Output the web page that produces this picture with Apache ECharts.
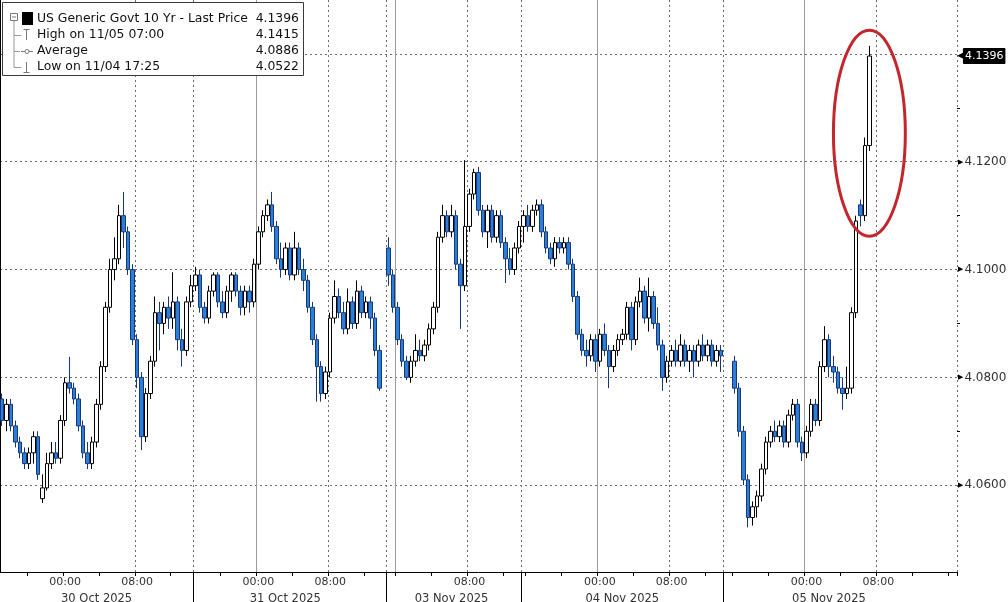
<!DOCTYPE html>
<html><head><meta charset="utf-8">
<script src="https://cdn.jsdelivr.net/npm/echarts@6/dist/echarts.min.js"></script>
<style>html,body{margin:0;padding:0;background:#fff}#c{width:1008px;height:602px}</style>
</head><body><div id="c"></div>
<script>
// ---- time layout: trading sessions of 30-minute bars ----
const sessions = [
  { start: '2025-10-29 17:00', slots: 43 },
  { start: '2025-10-30 17:00', slots: 43 },
  { start: '2025-11-02 23:00', slots: 30 },
  { start: '2025-11-03 15:30', slots: 45 },
  { start: '2025-11-04 15:00', slots: 52 }
];
const timeTickLabels = ['00:00', '08:00'];
const dayLabels = ['30 Oct 2025', '31 Oct 2025', '03 Nov 2025', '04 Nov 2025', '05 Nov 2025'];
const dayLabelSlots = ['10/30 03:30', '10/31 03:00', '11/03 06:00', '11/04 02:30', '11/05 02:30'];
const yLabelValues = [4.06, 4.08, 4.10, 4.12];
const yMinorTicks = [4.07, 4.09, 4.11, 4.13];

// ---- OHLC bars: [open, close, low, high] ----
const oct30 = [
[4.076,4.072,4.071,4.077],[4.072,4.075,4.070,4.076],[4.075,4.071,4.070,4.076],[4.071,4.068,4.067,4.072],
[4.068,4.066,4.065,4.069],[4.066,4.064,4.063,4.067],[4.064,4.066,4.063,4.067],[4.066,4.069,4.064,4.070],
[4.069,4.062,4.061,4.070],[4.0575,4.0595,4.0567,4.062],[4.0595,4.064,4.059,4.066],[4.064,4.066,4.063,4.068],
[4.066,4.065,4.064,4.068],[4.065,4.072,4.064,4.073],[4.072,4.079,4.071,4.080],[4.079,4.078,4.077,4.0838],
[4.078,4.076,4.075,4.079],[4.076,4.071,4.070,4.077],[4.071,4.066,4.065,4.072],[4.066,4.064,4.063,4.068],
[4.064,4.068,4.063,4.069],[4.068,4.075,4.067,4.076],[4.075,4.082,4.074,4.083],[4.082,4.093,4.081,4.094],
[4.093,4.100,4.092,4.102],[4.100,4.102,4.098,4.106],[4.102,4.110,4.101,4.112],[4.110,4.107,4.104,4.1144],
[4.107,4.100,4.099,4.108],[4.100,4.087,4.086,4.101],[4.087,4.080,4.078,4.088],[4.080,4.069,4.0665,4.081],
[4.069,4.077,4.068,4.078],[4.077,4.083,4.076,4.084],[4.083,4.092,4.082,4.095],[4.092,4.090,4.085,4.094],
[4.090,4.093,4.088,4.094],[4.093,4.091,4.089,4.095],[4.091,4.094,4.089,4.0995],[4.094,4.087,4.085,4.095],
[4.087,4.085,4.082,4.089],[4.085,4.094,4.084,4.095],[4.094,4.097,4.093,4.099]
];
const oct31 = [
[4.097,4.099,4.096,4.1005],[4.099,4.093,4.092,4.100],[4.093,4.091,4.090,4.094],[4.091,4.096,4.090,4.097],
[4.096,4.099,4.095,4.0995],[4.099,4.094,4.093,4.0995],[4.094,4.092,4.091,4.096],[4.092,4.096,4.091,4.097],
[4.096,4.099,4.094,4.0995],[4.099,4.096,4.095,4.0995],[4.096,4.093,4.0915,4.097],[4.093,4.096,4.0915,4.097],
[4.096,4.094,4.092,4.097],[4.094,4.101,4.093,4.102],[4.101,4.107,4.100,4.108],[4.107,4.110,4.106,4.111],
[4.110,4.112,4.109,4.113],[4.112,4.108,4.107,4.1144],[4.108,4.102,4.101,4.109],[4.102,4.100,4.0985,4.105],
[4.100,4.104,4.099,4.105],[4.104,4.099,4.098,4.105],[4.099,4.104,4.098,4.107],[4.104,4.100,4.099,4.105],
[4.100,4.098,4.096,4.102],[4.098,4.093,4.092,4.099],[4.093,4.087,4.086,4.094],[4.087,4.082,4.0755,4.088],
[4.082,4.077,4.0755,4.083],[4.077,4.081,4.076,4.082],[4.081,4.091,4.080,4.092],[4.091,4.095,4.090,4.098],
[4.095,4.092,4.091,4.0965],[4.092,4.089,4.088,4.094],[4.089,4.094,4.088,4.0965],[4.094,4.090,4.089,4.095],
[4.090,4.096,4.089,4.098],[4.096,4.092,4.091,4.097],[4.092,4.094,4.091,4.095],[4.094,4.091,4.089,4.095],
[4.091,4.085,4.084,4.092],[4.085,4.078,4.0775,4.086]
];
const nov03 = [
[4.104,4.099,4.097,4.106],[4.099,4.093,4.092,4.100],[4.093,4.087,4.086,4.094],[4.087,4.083,4.082,4.088],
[4.083,4.080,4.0795,4.084],[4.080,4.083,4.079,4.084],[4.083,4.085,4.082,4.088],[4.085,4.084,4.083,4.087],
[4.084,4.086,4.083,4.087],[4.086,4.089,4.085,4.090],[4.089,4.093,4.088,4.094],[4.093,4.106,4.092,4.107],
[4.106,4.110,4.105,4.112],[4.110,4.107,4.106,4.111],[4.107,4.110,4.106,4.112],[4.110,4.101,4.100,4.111],
[4.101,4.097,4.089,4.102],[4.097,4.108,4.096,4.1203],[4.108,4.114,4.107,4.115],[4.114,4.118,4.113,4.1187],
[4.118,4.111,4.110,4.119],[4.111,4.107,4.106,4.112],[4.107,4.111,4.104,4.112],[4.111,4.106,4.105,4.112],
[4.106,4.110,4.105,4.111],[4.110,4.105,4.104,4.111],[4.105,4.102,4.0975,4.106],[4.102,4.100,4.099,4.104],
[4.100,4.104,4.099,4.105],[4.104,4.108,4.103,4.109]
];
const nov04 = [
[4.108,4.110,4.105,4.111],[4.110,4.108,4.107,4.112],[4.108,4.111,4.107,4.112],[4.111,4.112,4.110,4.113],
[4.112,4.107,4.106,4.113],[4.107,4.104,4.103,4.108],[4.104,4.102,4.101,4.105],[4.102,4.105,4.1005,4.106],
[4.105,4.104,4.103,4.106],[4.104,4.105,4.103,4.106],[4.105,4.101,4.100,4.106],[4.101,4.095,4.094,4.102],
[4.095,4.088,4.087,4.096],[4.088,4.085,4.084,4.089],[4.085,4.084,4.082,4.087],[4.084,4.087,4.083,4.088],
[4.087,4.083,4.081,4.088],[4.083,4.088,4.082,4.089],[4.088,4.085,4.084,4.090],[4.085,4.082,4.078,4.086],
[4.082,4.085,4.081,4.086],[4.085,4.087,4.084,4.088],[4.087,4.088,4.086,4.089],[4.088,4.093,4.087,4.094],
[4.093,4.087,4.085,4.094],[4.087,4.094,4.086,4.095],[4.094,4.096,4.093,4.0985],[4.096,4.091,4.090,4.097],
[4.091,4.095,4.0885,4.0985],[4.095,4.090,4.089,4.096],[4.090,4.086,4.085,4.093],[4.086,4.080,4.0775,4.087],
[4.080,4.083,4.079,4.084],[4.083,4.085,4.082,4.086],[4.085,4.083,4.082,4.087],[4.083,4.086,4.082,4.088],
[4.086,4.083,4.082,4.087],[4.083,4.085,4.081,4.086],[4.085,4.083,4.080,4.086],[4.083,4.086,4.082,4.087],
[4.086,4.084,4.083,4.088],[4.084,4.086,4.083,4.087],[4.086,4.083,4.082,4.087],[4.083,4.085,4.082,4.086],
[4.085,4.084,4.081,4.086]
];
const nov05 = [
null, null,
[4.083,4.078,4.077,4.084],[4.078,4.070,4.069,4.079],[4.070,4.061,4.060,4.071],[4.061,4.054,4.0522,4.062],
[4.054,4.056,4.0525,4.057],[4.056,4.058,4.054,4.059],[4.058,4.063,4.057,4.064],[4.063,4.068,4.062,4.069],
[4.068,4.070,4.067,4.071],[4.070,4.069,4.068,4.072],[4.069,4.071,4.068,4.072],[4.071,4.068,4.067,4.072],
[4.068,4.073,4.067,4.074],[4.073,4.075,4.072,4.076],[4.075,4.068,4.067,4.076],[4.068,4.066,4.0645,4.069],
[4.066,4.070,4.065,4.071],[4.070,4.075,4.069,4.076],[4.075,4.072,4.071,4.076],[4.072,4.082,4.071,4.083],
[4.082,4.087,4.081,4.0895],[4.087,4.082,4.080,4.088],[4.082,4.081,4.079,4.084],[4.081,4.078,4.077,4.082],
[4.078,4.077,4.074,4.080],[4.077,4.078,4.076,4.082],[4.078,4.092,4.077,4.093],[4.092,4.109,4.091,4.110],
[4.112,4.110,4.108,4.113],[4.110,4.123,4.109,4.1245],[4.123,4.1396,4.122,4.1415]
];
const sessionBars = [oct30, oct31, nov03, nov04, nov05];

// legend texts and values
const legendRows = [
  ['US Generic Govt 10 Yr - Last Price', '4.1396'],
  ['High on 11/05 07:00', '4.1415'],
  ['Average', '4.0886'],
  ['Low on 11/04 17:25', '4.0522']
];
const lastPrice = 4.1396;
const yMin = 4.0439, yMax = 4.15;
const ellipseTop = 4.1444, ellipseBottom = 4.1062;

// ---- build categories / data ----
function pad(n){ return (n < 10 ? '0' : '') + n; }
const cats = [], bars = [], sessionStarts = [];
sessions.forEach((s, si) => {
  sessionStarts.push(cats.length);
  const [d, t] = s.start.split(' ');
  const [Y, M, D] = d.split('-').map(Number);
  const [h, m] = t.split(':').map(Number);
  const base = Date.UTC(Y, M - 1, D, h, m);
  for (let k = 0; k < s.slots; k++) {
    const dt = new Date(base + k * 1800000);
    cats.push(pad(dt.getUTCMonth() + 1) + '/' + pad(dt.getUTCDate()) + ' ' + pad(dt.getUTCHours()) + ':' + pad(dt.getUTCMinutes()));
    const b = sessionBars[si][k];
    bars.push(b ? b : ['-', '-', '-', '-']);
  }
});
const N = cats.length;
const tOf = v => v.slice(6);
const nearSessionStart = i => sessionStarts.some(s => i >= s && i - s < 4);
const FONT = 'DejaVu Sans';

const chart = echarts.init(document.getElementById('c'), null, { renderer: 'canvas' });
chart.setOption({
  animation: false,
  backgroundColor: '#ffffff',
  textStyle: { fontFamily: FONT },
  grid: { left: 0, right: 51, top: 0, bottom: 30, containLabel: false, outerBoundsMode: 'none' },
  xAxis: [{
    type: 'category', data: cats, boundaryGap: true, position: 'bottom',
    axisLine: { show: true, lineStyle: { color: '#000', width: 1 } },
    axisTick: { show: true, length: 4, lineStyle: { color: '#000' },
      interval: (i, v) => { const t = tOf(v); return t.slice(3) === '00' && (+t.slice(0, 2)) % 4 === 0; } },
    axisLabel: { show: true, interval: (i, v) => timeTickLabels.includes(tOf(v)) && !nearSessionStart(i), formatter: v => tOf(v),
      fontFamily: FONT, fontSize: 11, color: '#333', margin: 5 },
    splitLine: { show: true, interval: (i, v) => tOf(v) === '08:00' || sessionStarts.includes(i),
      lineStyle: { color: '#6e6e6e', width: 1, type: [2, 3] } }
  }, {
    type: 'category', data: cats, boundaryGap: true, position: 'bottom',
    axisLine: { show: false }, axisTick: { show: false },
    axisLabel: { show: true, interval: (i, v) => dayLabelSlots.includes(v), formatter: v => dayLabels[dayLabelSlots.indexOf(v)],
      fontFamily: FONT, fontSize: 11.5, color: '#333', margin: 21 },
    splitLine: { show: true, showMinLine: false, showMaxLine: false, interval: (i, v) => tOf(v) === '00:00',
      lineStyle: { color: '#9a9a9a', width: 1, type: 'solid' } }
  }, {
    type: 'value', min: 0, max: N, position: 'bottom',
    axisLine: { show: false }, axisLabel: { show: false }, splitLine: { show: false },
    axisTick: { show: true, length: 30, customValues: sessionStarts.slice(1), lineStyle: { color: '#000' } }
  }],
  yAxis: [{
    type: 'value', position: 'right', min: yMin, max: yMax, scale: true, splitNumber: 5,
    axisLine: { show: true, lineStyle: { color: '#000', width: 1 } },
    axisTick: { show: false },
    axisLabel: { show: true, customValues: yLabelValues, margin: 1,
      formatter: v => '{t|\u25B6}{v|' + v.toFixed(4) + '}',
      rich: { t: { fontSize: 7, color: '#000', padding: [0, 1, 0, 0], fontFamily: FONT },
              v: { fontSize: 12, color: '#333', fontFamily: FONT } } },
    splitLine: { show: true, showMinLine: false, showMaxLine: false, lineStyle: { color: '#6e6e6e', width: 1, type: [2, 3] } }
  }, {
    type: 'value', position: 'right', min: yMin, max: yMax, scale: true,
    axisLine: { show: false }, axisLabel: { show: false }, splitLine: { show: false },
    axisTick: { show: true, length: 3, customValues: yMinorTicks, lineStyle: { color: '#000' } }
  }],
  series: [{
    type: 'candlestick', xAxisIndex: 0, yAxisIndex: 0, data: bars, barWidth: 4,
    itemStyle: { color: '#ffffff', color0: '#2b7fd6', borderColor: '#000000', borderColor0: '#17377c', borderWidth: 1 },
    markLine: {
      silent: true, symbol: ['none', 'none'], animation: false, precision: 4,
      lineStyle: { color: 'rgba(0,0,0,0)', width: 1, type: 'solid' },
      label: { show: true, position: 'end', distance: 0, color: '#fff',
        formatter: () => '{a|\u25C0}{b|' + lastPrice.toFixed(4) + '}',
        rich: { a: { color: '#000', fontSize: 9, fontFamily: FONT, padding: [0, -1, 0, 0] },
                b: { color: '#fff', backgroundColor: '#000', fontSize: 11, fontFamily: FONT, padding: [3, 2, 2, 2], borderRadius: 1 } } },
      data: [{ yAxis: lastPrice }]
    }
  }]
});

// ---- overlay: legend box and highlight ellipse ----
let hiIdx = 0, hiVal = -Infinity;
bars.forEach((b, i) => { if (typeof b[3] === 'number' && b[3] > hiVal) { hiVal = b[3]; hiIdx = i; } });
const pTop = chart.convertToPixel({ gridIndex: 0 }, [hiIdx, ellipseTop]);
const pBot = chart.convertToPixel({ gridIndex: 0 }, [hiIdx, ellipseBottom]);
const pLeft = chart.convertToPixel({ gridIndex: 0 }, [hiIdx - 8, ellipseBottom]);

const G = '#777';
const rowsY = [19, 35, 51, 67];
const els = [
  { type: 'rect', shape: { x: 2.5, y: 2.5, width: 301, height: 73 }, style: { fill: '#fff', stroke: '#3a3a3a', lineWidth: 1 }, z: 100 },
  { type: 'line', shape: { x1: 14, y1: 21, x2: 14, y2: 67.5 }, style: { stroke: '#999', lineWidth: 1 }, z: 101 },
  { type: 'line', shape: { x1: 14, y1: 35.5, x2: 21, y2: 35.5 }, style: { stroke: '#999', lineWidth: 1 }, z: 101 },
  { type: 'line', shape: { x1: 14, y1: 51.5, x2: 20, y2: 51.5 }, style: { stroke: '#999', lineWidth: 1 }, z: 101 },
  { type: 'line', shape: { x1: 14, y1: 67.5, x2: 21, y2: 67.5 }, style: { stroke: '#999', lineWidth: 1 }, z: 101 },
  { type: 'rect', shape: { x: 10.5, y: 13.5, width: 7, height: 7 }, style: { fill: '#fff', stroke: G, lineWidth: 1 }, z: 102 },
  { type: 'line', shape: { x1: 12, y1: 17, x2: 16, y2: 17 }, style: { stroke: G, lineWidth: 1 }, z: 102 },
  { type: 'rect', shape: { x: 22, y: 12, width: 11, height: 13 }, style: { fill: '#000' }, z: 102 },
  { type: 'line', shape: { x1: 23.5, y1: 29.5, x2: 29.5, y2: 29.5 }, style: { stroke: G, lineWidth: 1 }, z: 102 },
  { type: 'line', shape: { x1: 26.5, y1: 29.5, x2: 26.5, y2: 40 }, style: { stroke: G, lineWidth: 1 }, z: 102 },
  { type: 'line', shape: { x1: 21, y1: 51.5, x2: 33, y2: 51.5 }, style: { stroke: G, lineWidth: 1 }, z: 102 },
  { type: 'circle', shape: { cx: 27, cy: 51.5, r: 2 }, style: { fill: '#fff', stroke: G, lineWidth: 1 }, z: 103 },
  { type: 'line', shape: { x1: 26.5, y1: 62, x2: 26.5, y2: 72.5 }, style: { stroke: G, lineWidth: 1 }, z: 102 },
  { type: 'line', shape: { x1: 23.5, y1: 72.5, x2: 29.5, y2: 72.5 }, style: { stroke: G, lineWidth: 1 }, z: 102 }
];
legendRows.forEach((r, k) => {
  els.push({ type: 'text', x: 37, y: rowsY[k], z: 103,
    style: { text: r[0], fill: '#111', font: '12.4px "DejaVu Sans"', align: 'left', verticalAlign: 'middle' } });
  els.push({ type: 'text', x: 299, y: rowsY[k], z: 103,
    style: { text: r[1], fill: '#111', font: '12.4px "DejaVu Sans"', align: 'right', verticalAlign: 'middle' } });
});
els.push({ type: 'ellipse', z: 110,
  shape: { cx: pTop[0], cy: (pTop[1] + pBot[1]) / 2, rx: pTop[0] - pLeft[0], ry: (pBot[1] - pTop[1]) / 2 },
  style: { fill: 'none', stroke: '#c1272d', lineWidth: 3 } });
chart.setOption({ graphic: { elements: els } });
</script>
</body></html>
